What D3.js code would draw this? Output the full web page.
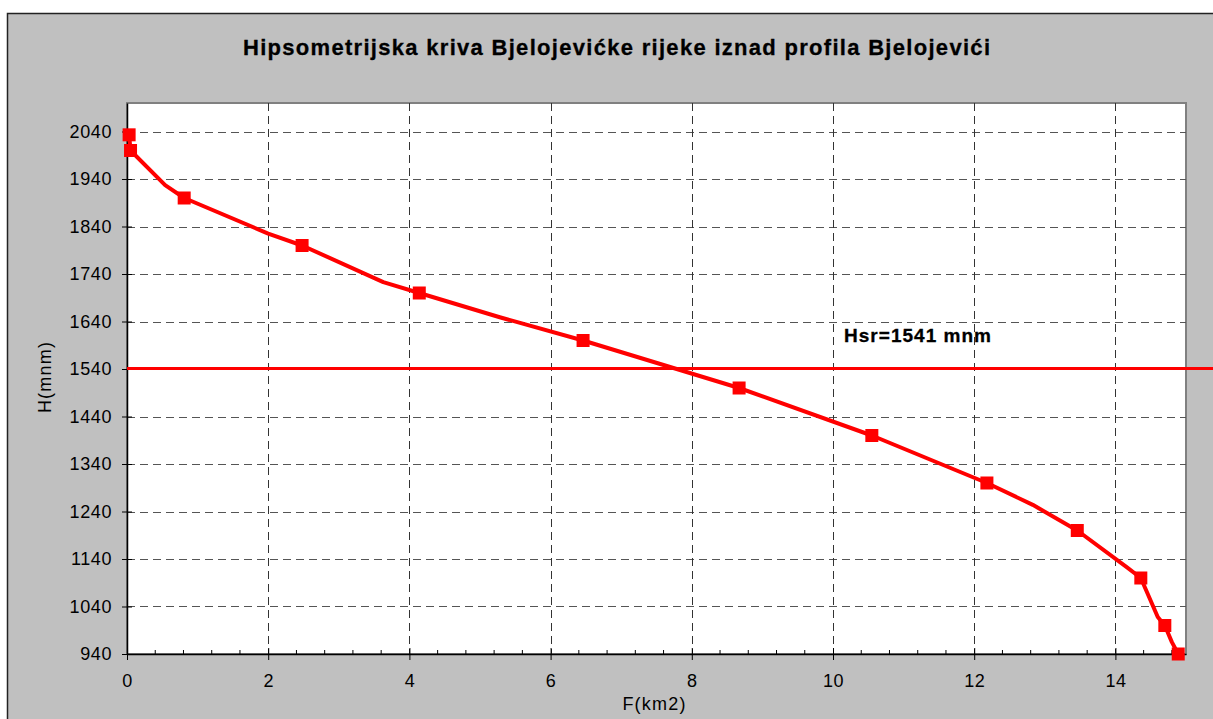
<!DOCTYPE html>
<html>
<head>
<meta charset="utf-8">
<script src="https://cdn.jsdelivr.net/npm/d3@7"></script>
<style>
  html, body { margin: 0; padding: 0; background: #fff; }
  svg { display: block; }
  svg text { font-family: "Liberation Sans", Arial, sans-serif; }
</style>
</head>
<body>
<div id="chart"></div>
<script>
// hypsometric curve data
const titleText = "Hipsometrijska kriva Bjelojevićke rijeke iznad profila Bjelojevići";
const xTicks = [0, 2, 4, 6, 8, 10, 12, 14];
const yTicks = [940, 1040, 1140, 1240, 1340, 1440, 1540, 1640, 1740, 1840, 1940, 2040];

// marked points (F in km2, H in mnm)
const markerF = [0.03, 0.05, 0.81, 2.48, 4.14, 6.46, 8.67, 10.55, 12.18, 13.46, 14.36, 14.70, 14.89];
const markerH = [2033, 2000, 1900, 1800, 1700, 1600, 1500, 1400, 1300, 1200, 1100, 1000, 940];

// line points (includes the unmarked bends of the curve)
const curveF = [0.03, 0.05, 0.54, 0.81, 2.0, 2.48, 3.63, 4.14, 5.28, 6.46, 8.67, 10.55, 12.18, 12.83, 13.46, 14.16, 14.36, 14.60, 14.70, 14.80, 14.89];
const curveH = [2033, 2000, 1927, 1900, 1825, 1800, 1723, 1700, 1649, 1600, 1500, 1400, 1300, 1254, 1200, 1123, 1100, 1018, 1000, 965, 940];

const hsr = 1541;

const width = 1213, height = 719;
const plot = { left: 127, right: 1186, top: 103, bottom: 654 };
const font = '"Liberation Sans", Arial, sans-serif';

const svg = d3.select("#chart").append("svg")
    .attr("width", width)
    .attr("height", height);

// outer chart area (gray frame)
svg.append("rect")
    .attr("x", 7.5).attr("y", 13.5)
    .attr("width", width).attr("height", height)
    .attr("fill", "#c0c0c0")
    .attr("stroke", "#222")
    .attr("stroke-width", 1.5);

svg.append("text")
    .attr("x", 243).attr("y", 55)
    .attr("textLength", 747)
    .attr("lengthAdjust", "spacing")
    .style("font-size", "22px")
    .style("font-weight", "bold")
    .attr("stroke", "#000")
    .attr("stroke-width", 0.3)
    .text(titleText);

const x = d3.scaleLinear().domain([0, 15]).range([plot.left, plot.right]);
const y = d3.scaleLinear().domain([940, 2100]).range([plot.bottom, plot.top]);

// plot area
svg.append("rect")
    .attr("x", plot.left).attr("y", plot.top)
    .attr("width", plot.right - plot.left)
    .attr("height", plot.bottom - plot.top)
    .attr("fill", "#fff")
    .attr("stroke", "#808080")
    .attr("stroke-width", 2);

// grid
const grid = svg.append("g").attr("fill", "none").attr("stroke-width", 1).attr("stroke-dasharray", "8,5");
grid.selectAll("line.h")
    .data(yTicks.filter(d => d > 940))
    .join("line")
    .attr("class", "h")
    .attr("x1", plot.left).attr("x2", plot.right)
    .attr("y1", d => Math.round(y(d)) + 0.5)
    .attr("y2", d => Math.round(y(d)) + 0.5)
    .attr("stroke", "#555");
grid.selectAll("line.v")
    .data(xTicks.filter(d => d > 0))
    .join("line")
    .attr("class", "v")
    .attr("y1", plot.top).attr("y2", plot.bottom)
    .attr("x1", d => Math.round(x(d)) + 0.5)
    .attr("x2", d => Math.round(x(d)) + 0.5)
    .attr("stroke", "#333");

// axes
const xAxis = svg.append("g")
    .attr("transform", `translate(0,${plot.bottom})`)
    .call(d3.axisBottom(x).tickValues(xTicks).tickFormat(d3.format("d"))
        .tickSizeInner(6).tickSizeOuter(0).tickPadding(14));
xAxis.attr("font-family", font).attr("font-size", 18);
xAxis.select(".domain").attr("stroke", "#000").attr("stroke-width", 1.5);
xAxis.selectAll(".tick line").attr("y1", -6).attr("stroke", "#000");
xAxis.selectAll(".tick text")
    .style("letter-spacing", "0.5px")
    .attr("fill", "#000");

// minor ticks on the F axis
const minor = d3.range(0, 15.01, 0.4).filter(v => Math.abs(v / 2 - Math.round(v / 2)) > 0.01);
svg.append("g").selectAll("line")
    .data(minor)
    .join("line")
    .attr("x1", d => x(d)).attr("x2", d => x(d))
    .attr("y1", plot.bottom).attr("y2", plot.bottom - 4)
    .attr("stroke", "#000");

const yAxis = svg.append("g")
    .attr("transform", `translate(${plot.left},0)`)
    .call(d3.axisLeft(y).tickValues(yTicks).tickFormat(d3.format("d"))
        .tickSizeInner(5).tickSizeOuter(0).tickPadding(10));
yAxis.attr("font-family", font).attr("font-size", 18);
yAxis.select(".domain").attr("stroke", "#000").attr("stroke-width", 1.5);
yAxis.selectAll(".tick line").attr("x1", -5).attr("x2", 5).attr("stroke", "#000");
yAxis.selectAll(".tick text")
    .style("letter-spacing", "0.6px")
    .attr("fill", "#000");

// axis titles
svg.append("text")
    .attr("x", (plot.left + plot.right) / 2 - 2).attr("y", 710)
    .attr("text-anchor", "middle")
    .style("font-size", "18px")
    .style("letter-spacing", "1.2px")
    .text("F(km2)");

svg.append("text")
    .attr("transform", `translate(51,377) rotate(-90)`)
    .attr("text-anchor", "middle")
    .style("font-size", "18px")
    .style("letter-spacing", "1.2px")
    .text("H(mnm)");

// mean height line
svg.append("line")
    .attr("x1", plot.left).attr("x2", width)
    .attr("y1", y(hsr)).attr("y2", y(hsr))
    .attr("stroke", "#ff0000")
    .attr("stroke-width", 3);

svg.append("text")
    .attr("x", 844).attr("y", 342)
    .attr("textLength", 147)
    .attr("lengthAdjust", "spacing")
    .style("font-size", "19px")
    .style("font-weight", "bold")
    .attr("stroke", "#000")
    .attr("stroke-width", 0.3)
    .text(`Hsr=${hsr} mnm`);

// curve
const line = d3.line()
    .x(i => x(curveF[i]))
    .y(i => y(curveH[i]));

svg.append("path")
    .datum(d3.range(curveF.length))
    .attr("fill", "none")
    .attr("stroke", "#ff0000")
    .attr("stroke-width", 4)
    .attr("stroke-linejoin", "round")
    .attr("d", line);

const ms = 13;
svg.append("g").selectAll("rect")
    .data(d3.range(markerF.length))
    .join("rect")
    .attr("x", i => x(markerF[i]) - ms / 2)
    .attr("y", i => y(markerH[i]) - ms / 2)
    .attr("width", ms)
    .attr("height", ms)
    .attr("fill", "#ff0000");
</script>
</body>
</html>
